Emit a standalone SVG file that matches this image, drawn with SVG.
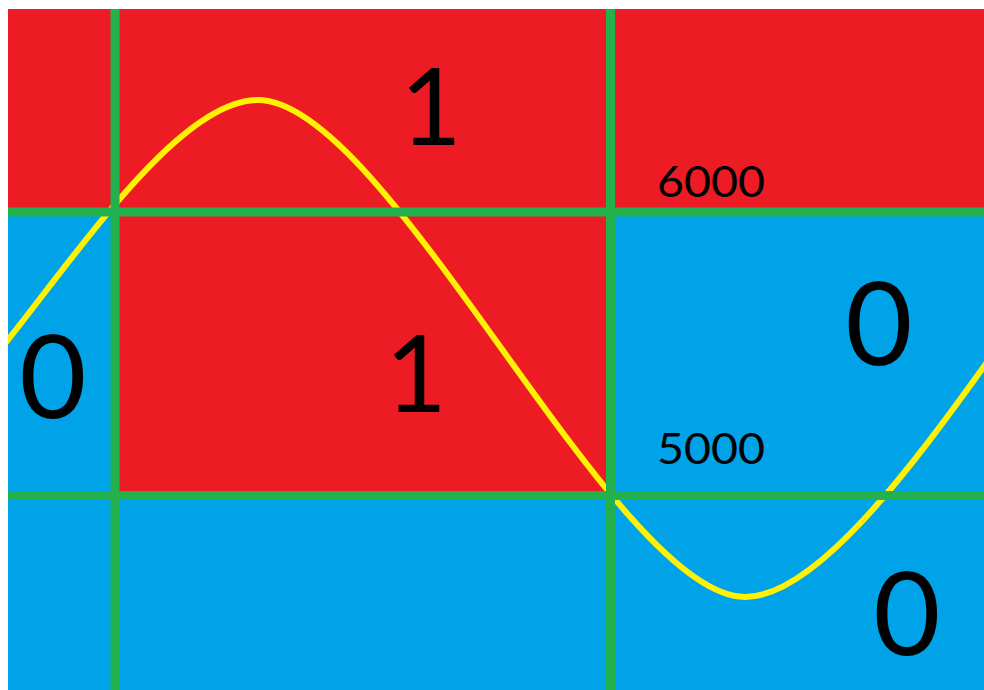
<svg xmlns="http://www.w3.org/2000/svg" width="984" height="690" viewBox="0 0 984 690">
<style>
.red{fill:#ED1C24}
.blue{fill:#00A2E8}
.grid{stroke:#22B14C;stroke-width:9;fill:none}
.wave{stroke:#FFF200;stroke-width:6;fill:none}
.big{font-family:Lato,"Liberation Sans",sans-serif;fill:#000;text-anchor:middle}
.small{font-family:Lato,"Liberation Sans",sans-serif;fill:#000;font-size:42px}
</style>
<defs>
<clipPath id="canvas"><rect x="8" y="9" width="976" height="681"/></clipPath>
</defs>
<rect x="0" y="0" width="984" height="690" fill="#fff"/>
<g id="regions">
<rect id="band-top" class="red" x="8" y="9" width="976" height="203"/>
<rect id="mid-left" class="blue" x="8" y="212" width="107" height="284"/>
<rect id="mid-center" class="red" x="115" y="212" width="496" height="284"/>
<rect id="mid-right" class="blue" x="611" y="212" width="373" height="284"/>
<rect id="band-bottom" class="blue" x="8" y="496" width="976" height="194"/>
</g>
<g id="wave" clip-path="url(#canvas)">
<path class="wave" d="M 0,350 C 80,250 180,100 258,100 C 388,100 615,597 745,597 C 815,597 910,470 990,358"/>
</g>
<g id="connectors" clip-path="url(#canvas)">
<line class="grid" x1="115" y1="9" x2="115" y2="690"/>
<line class="grid" x1="610.5" y1="9" x2="610.5" y2="690"/>
<line class="grid" x1="8" y1="212" x2="984" y2="212"/>
<line class="grid" x1="8" y1="495.5" x2="984" y2="495.5"/>
</g>
<g id="labels">
<text class="big" x="431" y="145" font-size="106">1</text>
<text class="big" x="416" y="412" font-size="106">1</text>
<text class="big" x="53" y="418" font-size="116">0</text>
<text class="big" x="879" y="365" font-size="116">0</text>
<text class="big" x="907" y="655" font-size="116">0</text>
<text class="small" x="657" y="197" textLength="108" lengthAdjust="spacingAndGlyphs">6000</text>
<text class="small" x="657" y="464" textLength="108" lengthAdjust="spacingAndGlyphs">5000</text>
</g>
</svg>
